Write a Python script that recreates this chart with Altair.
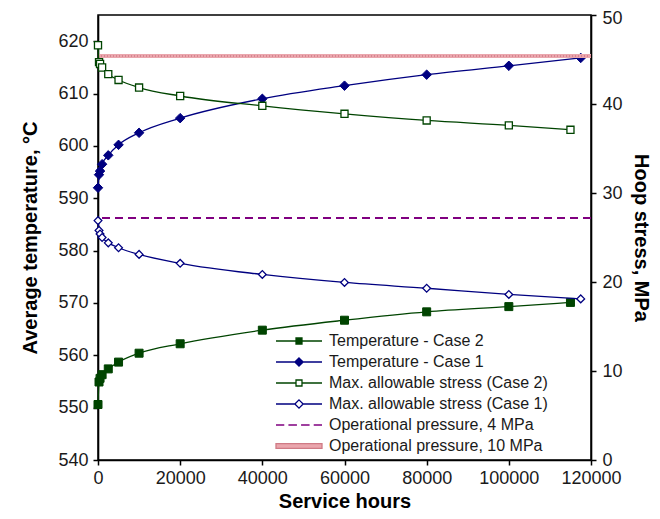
import altair as alt
import pandas as pd

# ---- data ----
hours_case2 = [0, 250, 500, 1000, 2500, 5000, 10000, 20000, 40000, 60000, 80000, 100000, 115000]
hours_case1 = [0, 250, 500, 1000, 2500, 5000, 10000, 20000, 40000, 60000, 80000, 100000, 117500]
temp_case2 = [550.6, 554.9, 555.6, 556.3, 557.4, 558.7, 560.4, 562.2, 564.8, 566.7, 568.3, 569.3, 570.1]
temp_case1 = [592.0, 594.5, 595.2, 596.5, 598.2, 600.2, 602.5, 605.3, 609.0, 611.5, 613.6, 615.3, 616.8]
stress_case2 = [46.6, 44.7, 44.5, 44.1, 43.35, 42.7, 41.85, 40.9, 39.8, 38.9, 38.15, 37.6, 37.1]
stress_case1 = [26.9, 25.8, 25.4, 25.0, 24.4, 23.85, 23.1, 22.1, 20.85, 19.95, 19.3, 18.6, 18.1]
pressure_4mpa = [27.2]
pressure_10mpa = [45.4]

series_names = [
    "Temperature - Case 2",
    "Temperature - Case 1",
    "Max. allowable stress (Case 2)",
    "Max. allowable stress (Case 1)",
    "Operational pressure, 4 MPa",
    "Operational pressure, 10 MPa",
]
x_ticks = [0, 20000, 40000, 60000, 80000, 100000, 120000]
left_ticks = [540, 550, 560, 570, 580, 590, 600, 610, 620]
right_ticks = [0, 10, 20, 30, 40, 50]

GREEN = "#004400"
NAVY = "#000080"
PURPLE = "#800080"
PINK = "#eaa6ad"
PINK_DARK = "#cf7a85"
FONT = "Liberation Sans"

df_t2 = pd.DataFrame({"hours": hours_case2, "temp": temp_case2})
df_t1 = pd.DataFrame({"hours": hours_case1, "temp": temp_case1})
df_s2 = pd.DataFrame({"hours": hours_case2, "stress": stress_case2})
df_s1 = pd.DataFrame({"hours": hours_case1, "stress": stress_case1})
df_p4 = pd.DataFrame({"stress": pressure_4mpa})
df_p10 = pd.DataFrame({"stress": pressure_10mpa})
df_leg = pd.DataFrame({"series": series_names})

x_enc = alt.X(
    "hours:Q",
    scale=alt.Scale(domain=[0, 120000], nice=False),
    axis=alt.Axis(values=x_ticks, title="Service hours", format="d",
                  labelPadding=4, titlePadding=4, labelOverlap=False, labelFlush=False),
)
y_left = alt.Y(
    "temp:Q",
    scale=alt.Scale(domain=[540, 625], nice=False, zero=False),
    axis=alt.Axis(values=left_ticks, orient="left", title="Average temperature, °C",
                  labelPadding=5, titlePadding=17, labelOverlap=False),
)
y_right = alt.Y(
    "stress:Q",
    scale=alt.Scale(domain=[0, 50], nice=False),
    axis=alt.Axis(values=right_ticks, orient="right", title="Hoop stress, MPa",
                  labelPadding=6, titlePadding=8, labelOverlap=False,
                  labelOffset={"condition": {"test": "datum.value == 50", "value": 3}, "value": 0}),
)


def line(df, y, color):
    return alt.Chart(df).mark_line(color=color, strokeWidth=1.3, interpolate="monotone").encode(x=x_enc, y=y)


def pts(df, y, shape, color, size, filled):
    if filled:
        m = alt.Chart(df).mark_point(shape=shape, filled=True, fill=color, stroke=color,
                                     strokeWidth=1, size=size, opacity=1)
    else:
        m = alt.Chart(df).mark_point(shape=shape, filled=True, fill="white", stroke=color,
                                     strokeWidth=1.3, size=size, opacity=1)
    return m.encode(x=x_enc, y=y)


left = alt.layer(
    line(df_t2, y_left, GREEN), pts(df_t2, y_left, "square", GREEN, 64, True),
    line(df_t1, y_left, NAVY), pts(df_t1, y_left, "diamond", NAVY, 90, True),
)

rule_p4 = alt.Chart(df_p4).mark_rule(color=PURPLE, strokeWidth=2, strokeDash=[8, 5]).encode(y=y_right)
rule_p10a = alt.Chart(df_p10).mark_rule(color=PINK, strokeWidth=4).encode(y=y_right)
rule_p10b = alt.Chart(df_p10).mark_rule(color=PINK_DARK, strokeWidth=1.5, strokeDash=[1, 2]).encode(y=y_right)

# legend symbols (line + marker) as custom shapes in unit box
sq = "M-0.13,-0.13H0.13V0.13H-0.13Z"
dm = "M0,-0.18L0.18,0L0,0.18L-0.18,0Z"
legend_shapes = [
    "M-1,0H-0.13M0.13,0H1" + sq,
    "M-1,0H-0.18M0.18,0H1" + dm,
    "M-1,0H-0.13M0.13,0H1" + sq,
    "M-1,0H-0.18M0.18,0H1" + dm,
    "M-1,0H-0.64M-0.46,0H-0.09M0.09,0H0.46M0.64,0H1",
    "M-1,-0.1H1V0.1H-1Z",
]
legend_fill = [GREEN, NAVY, "white", "white", "transparent", PINK]
legend_stroke = [GREEN, NAVY, GREEN, NAVY, PURPLE, PINK_DARK]

leg = alt.Legend(
    title=None, orient="none", legendX=177, legendY=318, padding=0,
    symbolSize=2116, symbolStrokeWidth=1.3, symbolOpacity=1, clipHeight=16,
    rowPadding=5, labelOffset=6, labelFont=FONT, labelFontSize=16,
    labelColor="#1a1a1a", labelLimit=320,
)
legend_layer = alt.Chart(df_leg).mark_point(opacity=0).encode(
    fill=alt.Fill("series:N", scale=alt.Scale(domain=series_names, range=legend_fill), legend=leg),
    stroke=alt.Stroke("series:N", scale=alt.Scale(domain=series_names, range=legend_stroke), legend=leg),
    shape=alt.Shape("series:N", scale=alt.Scale(domain=series_names, range=legend_shapes), legend=leg),
)

right = alt.layer(
    rule_p10a, rule_p10b, rule_p4,
    line(df_s2, y_right, GREEN), pts(df_s2, y_right, "square", GREEN, 50, False),
    line(df_s1, y_right, NAVY), pts(df_s1, y_right, "diamond", NAVY, 60, False),
    legend_layer,
)

chart = alt.layer(left, right).resolve_scale(y="independent").properties(
    width=493, height=445,
    autosize=alt.AutoSizeParams(type="none"),
    padding={"left": 90, "top": 7, "right": 61, "bottom": 51},
    background="white",
).configure_view(
    stroke="black", strokeWidth=1.5
).configure_axis(
    grid=False, domainColor="black", domainWidth=1.6, tickColor="black", tickWidth=1.5,
    tickSize=5, labelFont=FONT, labelFontSize=18, labelColor="#1a1a1a",
    titleFont=FONT, titleFontSize=20, titleFontWeight="bold", titleColor="black",
)

chart.save("out.html", embed_options={"renderer": "svg", "actions": False})
